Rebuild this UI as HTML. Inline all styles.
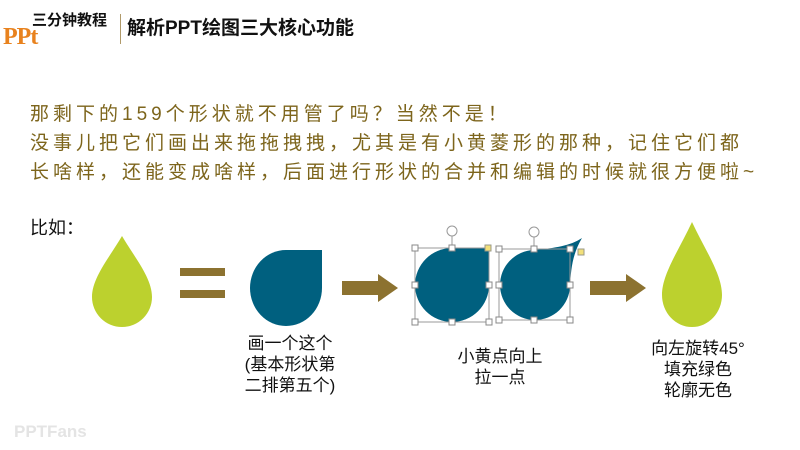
<!DOCTYPE html>
<html><head><meta charset="utf-8"><style>
body{margin:0;width:800px;height:450px;background:#fff;overflow:hidden;position:relative;font-family:"Liberation Sans","Noto Sans CJK SC",sans-serif}
.t{position:absolute;white-space:nowrap}
.p{color:#7d651c;font-size:19px;letter-spacing:4px;font-family:"Liberation Sans","WenQuanYi Zen Hei",sans-serif}
.lab{position:absolute;text-align:center;font-size:17px;line-height:21px;color:#111}
</style></head><body>
<div class="t" style="left:32px;top:9px;font-size:15px;font-weight:bold;color:#111">三分钟教程</div>
<div class="t" style="left:3px;top:24px;font-size:24px;font-weight:bold;color:#e8821e;font-family:'Liberation Serif',serif;letter-spacing:-1px">PPt</div>
<div style="position:absolute;left:120px;top:14px;width:1px;height:30px;background:#b09a6a"></div>
<div class="t" style="left:127px;top:13px;font-size:19px;font-weight:bold;color:#111">解析PPT绘图三大核心功能</div>
<div class="t p" style="left:30px;top:99px">那剩下的159个形状就不用管了吗？当然不是！</div>
<div class="t p" style="left:30px;top:128px">没事儿把它们画出来拖拖拽拽，尤其是有小黄菱形的那种，记住它们都</div>
<div class="t p" style="left:30px;top:157px">长啥样，还能变成啥样，后面进行形状的合并和编辑的时候就很方便啦~</div>
<div class="t" style="left:30px;top:214px;font-size:18px;color:#111">比如：</div>
<svg width="800" height="450" style="position:absolute;left:0;top:0">
<path d="M122 236 C135 258 152 278 152 297 A30 30 0 0 1 92 297 C92 278 109 258 122 236 Z" fill="#bcd12e"/>
<rect x="180" y="268" width="45" height="8" fill="#8c7230"/>
<rect x="180" y="290" width="45" height="8" fill="#8c7230"/>
<path d="M286 250 L322 250 L322 288 A36 38 0 1 1 286 250 Z" fill="#00607f"/>
<path d="M342 281 H378 V274 L398 288 L378 302 V295 H342 Z" fill="#8c7230"/>
<path d="M452 248 L489 248 L489 285 A37 37 0 1 1 452 248 Z" fill="#00607f"/>
<path d="M534 250 C555 248 570 246 582 238 C572 255 571 270 570 286 A35 35 0 1 1 534 250 Z" fill="#00607f"/>
<g fill="none" stroke="#999" stroke-width="1">
<rect x="415" y="248" width="74" height="74"/><rect x="499" y="249" width="71" height="71"/>
<line x1="452" y1="236" x2="452" y2="248"/><line x1="534" y1="237" x2="534" y2="249"/>
<circle cx="452" cy="231" r="5"/><circle cx="534" cy="232" r="5"/>
</g>
<g fill="#fff" stroke="#888" stroke-width="1">
<rect x="412" y="245" width="6" height="6"/><rect x="449" y="245" width="6" height="6"/>
<rect x="412" y="282" width="6" height="6"/><rect x="486" y="282" width="6" height="6"/>
<rect x="412" y="319" width="6" height="6"/><rect x="449" y="319" width="6" height="6"/><rect x="486" y="319" width="6" height="6"/>
<rect x="496" y="246" width="6" height="6"/><rect x="531" y="246" width="6" height="6"/><rect x="567" y="246" width="6" height="6"/>
<rect x="496" y="282" width="6" height="6"/><rect x="567" y="282" width="6" height="6"/>
<rect x="496" y="317" width="6" height="6"/><rect x="531" y="317" width="6" height="6"/><rect x="567" y="317" width="6" height="6"/>
</g>
<rect x="485" y="245" width="6" height="6" fill="#f2e07a" stroke="#998"/>
<rect x="578" y="249" width="6" height="6" fill="#f2e07a" stroke="#998"/>
<path d="M590 281 H626 V274 L646 288 L626 302 V295 H590 Z" fill="#8c7230"/>
<path d="M692 222 C705 250 722 274 722 295 A30 32 0 0 1 662 295 C662 274 679 250 692 222 Z" fill="#bcd12e"/>
</svg>
<div class="lab" style="left:220px;top:333px;width:140px">画一个这个<br>(基本形状第<br>二排第五个)</div>
<div class="lab" style="left:430px;top:346px;width:140px">小黄点向上<br>拉一点</div>
<div class="lab" style="left:628px;top:338px;width:140px">向左旋转45°<br>填充绿色<br>轮廓无色</div>
<div class="t" style="left:14px;top:422px;font-size:17px;color:#e4e4e4;font-weight:bold">PPTFans</div>
</body></html>
